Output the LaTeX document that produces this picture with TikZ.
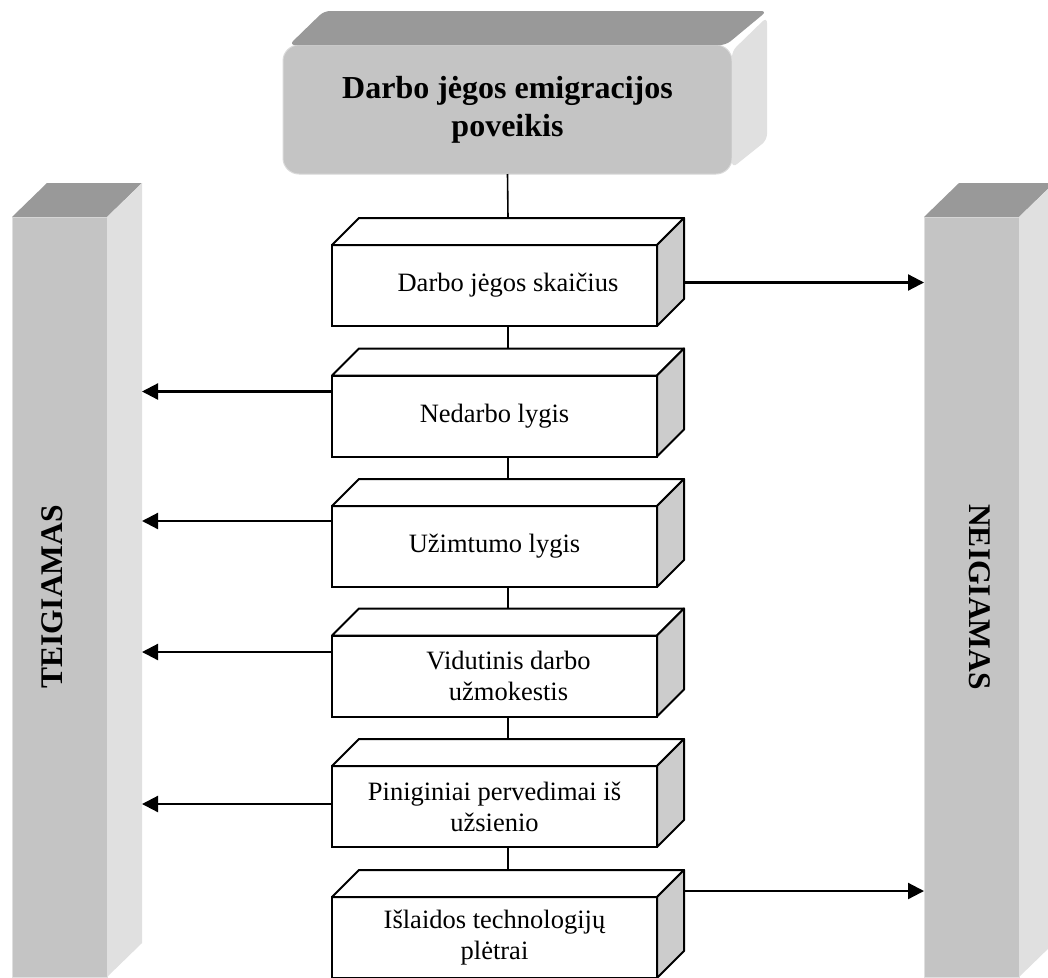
\documentclass[tikz,border=0pt]{standalone}
\usepackage{fontspec}
\setmainfont{Liberation Serif}
\usetikzlibrary{
    arrows.meta,
    calc
}
\definecolor{frontgray}{HTML}{C4C4C4}
\definecolor{topgray}{HTML}{999999}
\definecolor{sidegray}{HTML}{E0E0E0}
\definecolor{cubeside}{HTML}{CCCCCC}
\tikzset{
    cube/.style={draw, line width=2pt, fill=white, outer sep=0pt, inner sep=2pt,
        minimum width=325pt, minimum height=81pt, align=center,
        font=\fontsize{26.5}{31}\selectfont},
    face/.style={draw, line width=2pt, line join=round, fill=white},
    link/.style={line width=1.6pt},
    effect/.style={line width=2.2pt, -{Triangle[length=16pt,width=16pt]}},
    bar/.style={fill=frontgray, draw=gray!25, line width=1pt, outer sep=0pt,
        minimum width=95pt, minimum height=760pt, inner sep=0pt},
    bartext/.style={font=\bfseries\fontsize{31.5}{36}\selectfont},
    title/.style={fill=frontgray, draw=gray!30, line width=1pt, outer sep=0pt,
        rounded corners=16pt, minimum width=449pt, minimum height=129pt,
        align=center, font=\bfseries\fontsize{32}{38}\selectfont}
}
\begin{document}
\begin{tikzpicture}[x=1pt, y=-1pt]
    \fill[white] (0,0) rectangle (1048,977);
    \clip (0,0) rectangle (1048,977);

    \node[bar] (teigbar) at (59.5, 597) {};
    \fill[topgray] (teigbar.north west) -- ++(35pt,34pt) -- ([shift={(35pt,34pt)}]teigbar.north east) -- (teigbar.north east) -- cycle;
    \fill[sidegray] (teigbar.north east) -- ++(35pt,34pt) -- ([shift={(35pt,34pt)}]teigbar.south east) -- (teigbar.south east) -- cycle;
    \node[bartext, rotate=90] (teig) at (52, 597) {TEIGIAMAS};
    \coordinate (teigedge) at ([xshift=35pt]teigbar.east);

    \node[bar] (neigbar) at (971.5, 597) {};
    \fill[topgray] (neigbar.north west) -- ++(35pt,34pt) -- ([shift={(35pt,34pt)}]neigbar.north east) -- (neigbar.north east) -- cycle;
    \fill[sidegray] (neigbar.north east) -- ++(35pt,34pt) -- ([shift={(35pt,34pt)}]neigbar.south east) -- (neigbar.south east) -- cycle;
    \node[bartext, rotate=-90] (neig) at (980, 597) {NEIGIAMAS};

    \node[title] (poveikis) at (507.5, 109.5) {Darbo jėgos emigracijos\\poveikis};
    \fill[topgray, rounded corners=6pt] ([xshift=6pt]poveikis.north west) -- ++(35pt,34pt) -- ([shift={(35pt,34pt)}]poveikis.north east) -- ([xshift=-6pt]poveikis.north east) -- cycle;
    \fill[sidegray, rounded corners=6pt] ([yshift=-6pt]poveikis.north east) -- ++(35pt,34pt) -- ([shift={(35pt,34pt)}]poveikis.south east) -- ([yshift=6pt]poveikis.south east) -- cycle;

    \node[cube] (skaicius) at (494.5, 285.5) {\hspace*{27pt}Darbo jėgos skaičius};
    \node[cube] (nedarbo) at (494.5, 416) {Nedarbo lygis};
    \node[cube] (uzimtumo) at (494.5, 546.5) {Užimtumo lygis};
    \node[cube] (vidutinis) at (494.5, 676) {\hspace*{28pt}Vidutinis darbo\\\hspace*{28pt}užmokestis};
    \node[cube] (pinigin) at (494.5, 806.5) {Piniginiai pervedimai iš\\užsienio};
    \node[cube] (islaidos) at (494.5, 937.5) {Išlaidos technologijų\\plėtrai};

    \foreach \n in {skaicius, nedarbo, uzimtumo, vidutinis, pinigin, islaidos} {
        \draw[face] (\n.north west) -- ++(27pt,27pt) -- ([shift={(27pt,27pt)}]\n.north east) -- (\n.north east) -- cycle;
        \draw[face, fill=cubeside] (\n.north east) -- ++(27pt,27pt) -- ([shift={(27pt,27pt)}]\n.south east) -- (\n.south east) -- cycle;
    }

    \draw[link] (poveikis.south) -- ([shift={(13.5pt,27pt)}]skaicius.north);
    \draw[link] ([xshift=13.5pt]skaicius.south) -- ([shift={(13.5pt,27pt)}]nedarbo.north);
    \draw[link] ([xshift=13.5pt]nedarbo.south) -- ([shift={(13.5pt,27pt)}]uzimtumo.north);
    \draw[link] ([xshift=13.5pt]uzimtumo.south) -- ([shift={(13.5pt,27pt)}]vidutinis.north);
    \draw[link] ([xshift=13.5pt]vidutinis.south) -- ([shift={(13.5pt,27pt)}]pinigin.north);
    \draw[link] ([xshift=13.5pt]pinigin.south) -- ([shift={(13.5pt,27pt)}]islaidos.north);

    \draw[effect] ([shift={(27pt,3pt)}]skaicius.east) coordinate (s1) -- (s1 -| neigbar.west);
    \draw[effect] ([shift={(27pt,6pt)}]islaidos.north east) coordinate (s6) -- (s6 -| neigbar.west);
    \draw[effect] ([yshift=-16pt]nedarbo.north west) coordinate (s2) -- (s2 -| teigedge);
    \draw[effect] ([yshift=-15pt]uzimtumo.north west) coordinate (s3) -- (s3 -| teigedge);
    \draw[effect] ([yshift=-16.5pt]vidutinis.north west) coordinate (s4) -- (s4 -| teigedge);
    \draw[effect] ([yshift=2.5pt]pinigin.west) coordinate (s5) -- (s5 -| teigedge);
\end{tikzpicture}
\end{document}
